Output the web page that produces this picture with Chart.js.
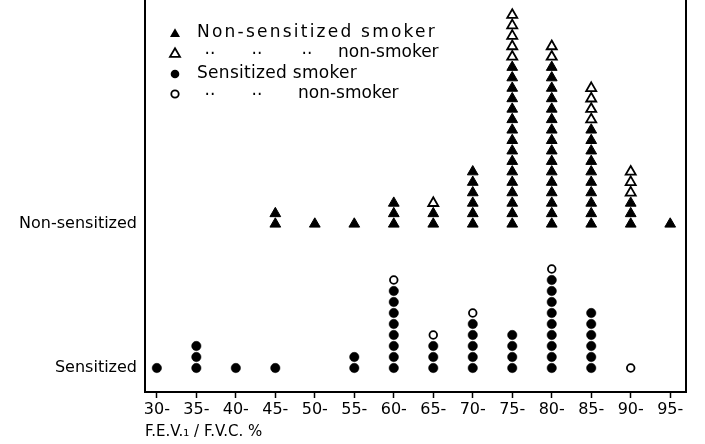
<!DOCTYPE html>
<html><head><meta charset="utf-8">
<script src="https://cdn.jsdelivr.net/npm/chart.js@4.4.0/dist/chart.umd.min.js"></script>
<style>html,body{margin:0;padding:0;background:#fff;}#wrap{width:705px;height:444px;position:relative;}</style>
</head><body><div id="wrap"><canvas id="c" width="705" height="444"></canvas></div>
<script>
// ---- data ----
const categories       = [30, 35, 40, 45, 50, 55, 60, 65, 70, 75, 80, 85, 90, 95];
const tickLabels       = ['30-','35-','40-','45-','50-','55-','60-','65-','70-','75-','80-','85-','90-','95-'];
const nonSensSmoker    = [0, 0, 0, 2, 1, 1, 3, 2, 6, 16, 16, 10, 3, 1];
const nonSensNonSmoker = [0, 0, 0, 0, 0, 0, 0, 1, 0, 5, 2, 4, 3, 0];
const sensSmoker       = [1, 3, 1, 1, 0, 2, 8, 3, 5, 4, 9, 6, 0, 0];
const sensNonSmoker    = [0, 0, 0, 0, 0, 0, 1, 1, 1, 0, 1, 0, 1, 0];
const rowLabels        = ['Sensitized', 'Non-sensitized'];
const legendTexts      = ['Non-sensitized smoker', 'non-smoker', 'Sensitized smoker', 'non-smoker'];
const dittoMark        = '··';
const xTitle           = 'F.E.V.\u2081 / F.V.C. %';

// ---- layout constants (style) ----
const SENS_BASE = 0, NONSENS_BASE = 144;
const CIRC_STEP = 11, TRI_STEP = 10.45;
const FONT = 'DejaVu Sans';

function stack(base, step, lower, upper) {
  const a = [], b = [];
  categories.forEach((c, k) => {
    for (let i = 0; i < lower[k]; i++) a.push({x: c, y: base + i * step});
    for (let i = 0; i < upper[k]; i++) b.push({x: c, y: base + (lower[k] + i) * step});
  });
  return [a, b];
}
const [nsS, nsN] = stack(NONSENS_BASE, TRI_STEP, nonSensSmoker, nonSensNonSmoker);
const [sS, sN] = stack(SENS_BASE, CIRC_STEP, sensSmoker, sensNonSmoker);

function fitText(ctx, text, x, y, width) {
  ctx.letterSpacing = '0px';
  const w = ctx.measureText(text).width;
  const ls = Math.max(0, (width - w) / text.length);
  ctx.letterSpacing = ls + 'px';
  ctx.fillText(text, x, y);
  ctx.letterSpacing = '0px';
}
function noPad(s) { s.paddingTop = 0; s.paddingBottom = 0; s.paddingLeft = 0; s.paddingRight = 0; }

const legendPlugin = {
  id: 'legendDraw',
  afterDraw(chart) {
    const ctx = chart.ctx;
    ctx.save();
    ctx.fillStyle = '#000'; ctx.strokeStyle = '#000';
    const mx = 175;
    const rows = [33, 53, 74, 94];
    const tri = (y, filled) => {
      const r = 5.8;
      ctx.beginPath();
      ctx.moveTo(mx, y - r);
      ctx.lineTo(mx + r * 0.866, y + r / 2);
      ctx.lineTo(mx - r * 0.866, y + r / 2);
      ctx.closePath();
      if (filled) ctx.fill(); else { ctx.lineWidth = 1.8; ctx.stroke(); }
    };
    const circ = (y, filled) => {
      ctx.beginPath();
      ctx.arc(mx, y, filled ? 4.3 : 3.7, 0, Math.PI * 2);
      if (filled) ctx.fill(); else { ctx.lineWidth = 1.8; ctx.stroke(); }
    };
    tri(rows[0] + 1, true); tri(rows[1] + 1, false);
    circ(rows[2], true); circ(rows[3], false);
    ctx.font = '17px "' + FONT + '"';
    ctx.textBaseline = 'middle';
    ctx.textAlign = 'left';
    fitText(ctx, legendTexts[0], 197, rows[0], 240);
    fitText(ctx, legendTexts[2], 197, rows[2], 160);
    fitText(ctx, legendTexts[1], 338, rows[1], 99);
    fitText(ctx, legendTexts[3], 298, rows[3], 100);
    ctx.textAlign = 'center';
    [210, 257, 307].forEach(x => ctx.fillText(dittoMark, x, rows[1] + 2));
    [210, 257].forEach(x => ctx.fillText(dittoMark, x, rows[3] + 2));
    ctx.restore();
  }
};

new Chart(document.getElementById('c'), {
  type: 'scatter',
  data: {
    datasets: [
      {label: legendTexts[0], data: nsS, pointStyle: 'triangle', pointRadius: 6.2, backgroundColor: '#000', borderColor: '#000', borderWidth: 1, clip: false},
      {label: legendTexts[1], data: nsN, pointStyle: 'triangle', pointRadius: 5.8, backgroundColor: '#fff', borderColor: '#000', borderWidth: 1.8, clip: false},
      {label: legendTexts[2], data: sS, pointStyle: 'circle', pointRadius: 4.7, backgroundColor: '#000', borderColor: '#000', borderWidth: 0.5, clip: false},
      {label: legendTexts[3], data: sN, pointStyle: 'circle', pointRadius: 3.8, backgroundColor: '#fff', borderColor: '#000', borderWidth: 1.8, clip: false}
    ]
  },
  options: {
    responsive: false,
    animation: false,
    layout: {padding: 0, autoPadding: false},
    plugins: {legend: {display: false}, tooltip: {enabled: false}},
    elements: {point: {hoverRadius: 0}},
    scales: {
      x: {
        type: 'linear', position: 'bottom', min: 28.5, max: 97,
        afterBuildTicks: s => { s.ticks = categories.map(v => ({value: v})); },
        afterFit: s => { s.height = 52; noPad(s); },
        ticks: {
          callback: (v, i) => tickLabels[i], color: '#000', autoSkip: false, maxRotation: 0,
          font: {family: FONT, size: 16}, padding: 2
        },
        grid: {display: true, drawOnChartArea: false, drawTicks: true, tickLength: 6, tickColor: '#000', tickWidth: 1.5},
        border: {display: true, color: '#000', width: 2},
        title: {display: true, text: xTitle, align: 'start', color: '#000', font: {family: FONT, size: 15}, padding: {top: 0, bottom: 3}}
      },
      y: {
        type: 'linear', position: 'left', min: -24, max: 368,
        afterBuildTicks: s => { s.ticks = [SENS_BASE, NONSENS_BASE].map(v => ({value: v})); },
        afterFit: s => { s.width = 145; noPad(s); },
        ticks: {callback: (v, i) => rowLabels[i], color: '#000', font: {family: FONT, size: 16}, padding: 8},
        grid: {display: false, drawTicks: false},
        border: {display: true, color: '#000', width: 2}
      },
      y2: {
        type: 'linear', position: 'right', display: true, min: -24, max: 368,
        afterFit: s => { s.width = 19; noPad(s); },
        ticks: {display: false},
        grid: {display: false, drawTicks: false},
        border: {display: true, color: '#000', width: 2}
      }
    }
  },
  plugins: [legendPlugin]
});
</script>
</body></html>
